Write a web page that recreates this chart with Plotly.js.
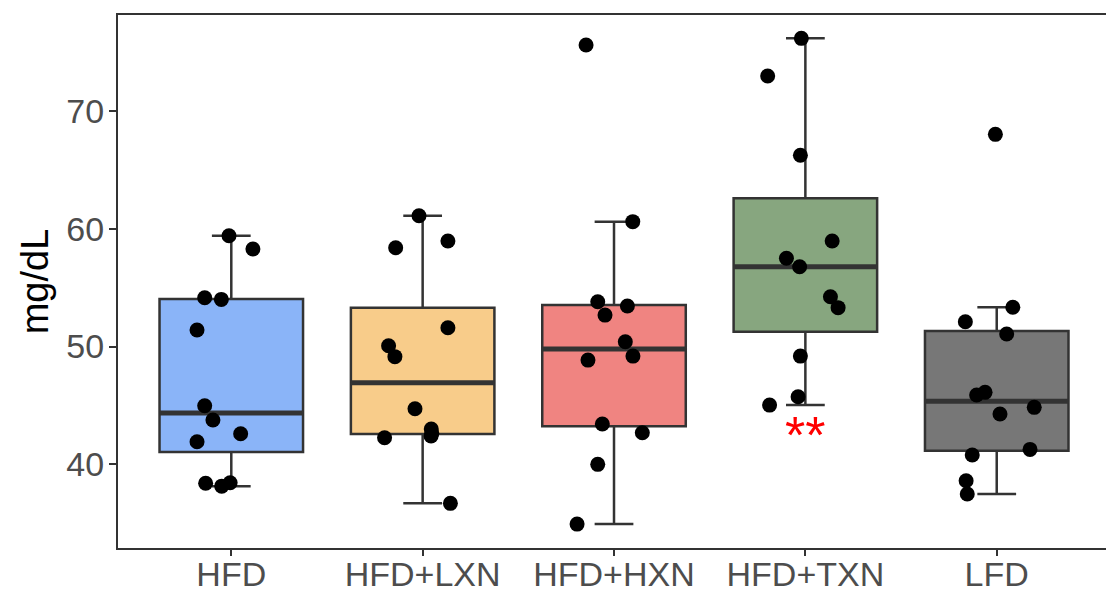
<!DOCTYPE html>
<html>
<head>
<meta charset="utf-8">
<script src="https://cdn.plot.ly/plotly-3.0.1.min.js"></script>
<style>html,body{margin:0;padding:0;background:#fff;}#chart{width:1106px;height:596px;}</style>
</head>
<body>
<div id="chart"></div>
<script>
// Categories and values (mg/dL)
const categories = ["HFD", "HFD+LXN", "HFD+HXN", "HFD+TXN", "LFD"];
const boxColors = ["#8AB4F8", "#F8CC8A", "#F08481", "#87A67F", "#777777"];

const hfd = [59.4, 58.28, 54.14, 54.0, 51.4, 44.97, 43.76, 42.6, 41.92, 38.4, 38.15, 38.44];
const lxn = [61.1, 58.96, 58.39, 51.6, 50.07, 49.14, 44.72, 43.0, 42.63, 42.4, 42.26, 36.69];
const hxn = [75.6, 60.6, 53.8, 53.44, 52.67, 50.41, 49.19, 48.85, 43.42, 42.68, 40.0, 34.93];
const txn = [76.16, 72.96, 66.23, 58.96, 57.49, 56.77, 54.23, 53.3, 49.19, 45.74, 45.03];
const lfd = [68.01, 53.33, 52.1, 51.06, 46.11, 45.88, 44.84, 44.27, 41.27, 40.79, 38.61, 37.48];

// horizontal jitter of each point (category units)
const hfdJitter = [-0.012, 0.113, -0.139, -0.052, -0.179, -0.139, -0.096, 0.049, -0.179, -0.134, -0.05, -0.006];
const lxnJitter = [-0.019, 0.132, -0.141, 0.132, -0.178, -0.145, -0.040, 0.045, 0.048, 0.044, -0.199, 0.145];
const hxnJitter = [-0.146, 0.098, -0.085, 0.070, -0.047, 0.059, 0.099, -0.136, -0.061, 0.148, -0.085, -0.193];
const txnJitter = [-0.021, -0.197, -0.026, 0.140, -0.099, -0.030, 0.131, 0.171, -0.026, -0.038, -0.187];
const lfdJitter = [-0.007, 0.084, -0.164, 0.052, -0.061, -0.105, 0.196, 0.017, 0.174, -0.128, -0.160, -0.154];

const yTicks = [40, 50, 60, 70];
const signifLabel = {group: "HFD+TXN", text: "**", y: 42.5};

const groups = [hfd, lxn, hxn, txn, lfd];
const jitters = [hfdJitter, lxnJitter, hxnJitter, txnJitter, lfdJitter];

// R type-7 quantile
function quantile(arr, p) {
  const s = arr.slice().sort((a, b) => a - b);
  const h = (s.length - 1) * p;
  const lo = Math.floor(h), hi = Math.ceil(h);
  return s[lo] + (h - lo) * (s[hi] - s[lo]);
}

const BOXW = 0.75;
const traces = [];
groups.forEach((g, i) => {
  const q1 = quantile(g, 0.25), med = quantile(g, 0.5), q3 = quantile(g, 0.75);
  const iqr = q3 - q1;
  const upper = Math.max(...g.filter(v => v <= q3 + 1.5 * iqr));
  const lower = Math.min(...g.filter(v => v >= q1 - 1.5 * iqr));
  traces.push({
    type: "box", x: [i], q1: [q1], median: [med], q3: [q3],
    lowerfence: [lower], upperfence: [upper],
    width: BOXW, whiskerwidth: 0.27, boxpoints: false,
    fillcolor: boxColors[i], line: {color: "#333333", width: 2.5},
    hoverinfo: "skip", showlegend: false
  });
  traces.push({
    type: "scatter", mode: "lines", x: [i - BOXW / 2, i + BOXW / 2], y: [med, med],
    line: {color: "#333333", width: 5}, hoverinfo: "skip", showlegend: false
  });
});

const px = [], py = [];
groups.forEach((g, i) => g.forEach((v, k) => { px.push(i + jitters[i][k]); py.push(v); }));
traces.push({
  type: "scatter", mode: "markers", x: px, y: py,
  marker: {color: "#000000", size: 15}, hoverinfo: "skip", showlegend: false
});

const layout = {
  width: 1106, height: 596,
  margin: {l: 118, r: 0, t: 15, b: 48},
  paper_bgcolor: "#ffffff", plot_bgcolor: "#ffffff",
  boxmode: "overlay",
  font: {family: "Liberation Sans, Arial, sans-serif"},
  xaxis: {
    range: [-0.592, 4.571], tickvals: categories.map((c, i) => i), ticktext: categories,
    showgrid: false, zeroline: false, showline: true, mirror: true,
    linecolor: "#333333", linewidth: 2,
    ticks: "outside", ticklen: 6, tickwidth: 2, tickcolor: "#333333",
    ticklabelstandoff: -11,
    tickfont: {size: 34, color: "#4D4D4D"}
  },
  yaxis: {
    range: [32.9, 78.14], tickvals: yTicks,
    showgrid: false, zeroline: false, showline: true,
    linecolor: "#333333", linewidth: 2,
    ticks: "outside", ticklen: 7, tickwidth: 2, tickcolor: "#333333",
    ticklabelstandoff: -2,
    tickfont: {size: 34, color: "#4D4D4D"},
    title: {text: "mg/dL", font: {size: 38, color: "#000000"}, standoff: 6}
  },
  annotations: [{
    x: categories.indexOf(signifLabel.group), y: signifLabel.y, xref: "x", yref: "y",
    text: signifLabel.text, showarrow: false, font: {size: 52, color: "#FF0000"},
    xanchor: "center", yanchor: "middle"
  }]
};

Plotly.newPlot("chart", traces, layout, {displayModeBar: false, staticPlot: true});
</script>
</body>
</html>
